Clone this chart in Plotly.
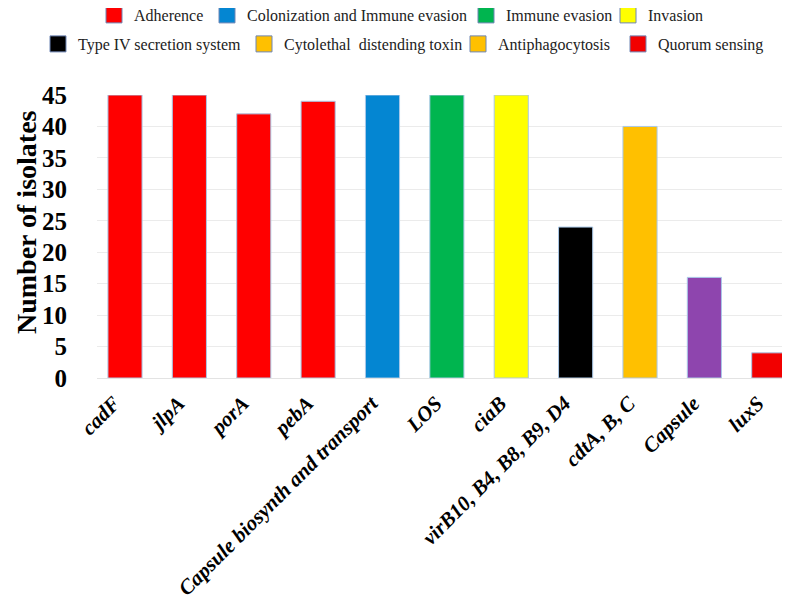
import plotly.graph_objects as go

genes = ["cadF", "jlpA", "porA", "pebA", "Capsule biosynth and transport", "LOS",
         "ciaB", "virB10, B4, B8, B9, D4", "cdtA, B, C", "Capsule", "luxS"]
counts = [45, 45, 42, 44, 45, 45, 45, 24, 40, 16, 4]
bar_colors = ["#FF0000", "#FF0000", "#FF0000", "#FF0000", "#0486D2", "#00B54F",
              "#FFFF00", "#000000", "#FFC000", "#8E45AE", "#F20000"]

groups = ["Adherence", "Colonization and Immune evasion", "Immune evasion", "Invasion",
          "Type IV secretion system", "Cytolethal  distending toxin", "Antiphagocytosis",
          "Quorum sensing"]
group_colors = ["#FF0000", "#0486D2", "#00B54F", "#FFFF00",
                "#000000", "#FFC000", "#FFC000", "#F20000"]
# legend entry placement on the page (text start x px, row centre y px)
legend_text_x = [133, 246, 505, 647, 77, 283, 497, 657]
legend_row_y = [15, 15, 15, 15, 44, 44, 44, 44]

y_ticks = [0, 5, 10, 15, 20, 25, 30, 35, 40, 45]
y_title = "Number of isolates"

# the page body has an 8px margin, so the figure is drawn 8px in and 8px down
OFF = 8
W, H = 790 - OFF, 599 - OFF
PLOT_TOP, PLOT_BOTTOM, PLOT_LEFT = 95, 378, 97

fig = go.Figure()
fig.add_trace(go.Bar(
    x=genes, y=counts, width=0.53,
    marker=dict(color=bar_colors, line=dict(color="#A9C8E8", width=1)),
    showlegend=False,
))

legend_font = dict(family="Liberation Serif", size=16, color="#222222")
legends = {}
for i, (name, c) in enumerate(zip(groups, group_colors)):
    key = "legend" if i == 0 else f"legend{i + 1}"
    fig.add_trace(go.Scatter(x=[None], y=[None], mode="markers", name=name,
                             marker=dict(symbol="square", size=16, color=c,
                                         line=dict(color="#6F86B5", width=1)),
                             legend=key))
    legends[key] = dict(orientation="h", xref="container", yref="container",
                        x=(legend_text_x[i] - OFF - 39) / W,
                        y=1 - (legend_row_y[i] - OFF) / H,
                        xanchor="left", yanchor="middle",
                        font=legend_font, bgcolor="rgba(0,0,0,0)", borderwidth=0)

fig.update_layout(
    width=W, height=H,
    font=dict(family="Liberation Serif"),
    margin=dict(l=PLOT_LEFT - OFF, r=0, t=PLOT_TOP - OFF, b=H - (PLOT_BOTTOM - OFF)),
    plot_bgcolor="white", paper_bgcolor="white",
    barmode="overlay",
    xaxis=dict(type="category", range=[-0.435, 10.33], showgrid=False, automargin=False,
               tickangle=-45, ticks="", ticklabelstandoff=8, ticklabelshift=-11,
               tickfont=dict(family="Liberation Serif", size=21, color="black",
                             style="italic", weight="bold"),
               showline=False, zeroline=False),
    yaxis=dict(range=[0, 45], tickvals=y_ticks, showgrid=True, gridcolor="#EBEBEB",
               gridwidth=1, zeroline=True, zerolinecolor="#E3E3E3", zerolinewidth=1,
               ticks="", ticklabelstandoff=29, automargin=False,
               tickfont=dict(family="Liberation Serif", size=25, color="black", weight="bold")),
    annotations=[dict(text=y_title, textangle=-90, showarrow=False,
                      xref="paper", yref="paper", x=0, xanchor="center",
                      xshift=26 - PLOT_LEFT, borderpad=0,
                      y=(PLOT_BOTTOM - 222) / (PLOT_BOTTOM - PLOT_TOP), yanchor="middle",
                      font=dict(family="Liberation Serif", size=28, color="black",
                                weight="bold"))],
    **legends,
)

fig.write_html("out.html")
